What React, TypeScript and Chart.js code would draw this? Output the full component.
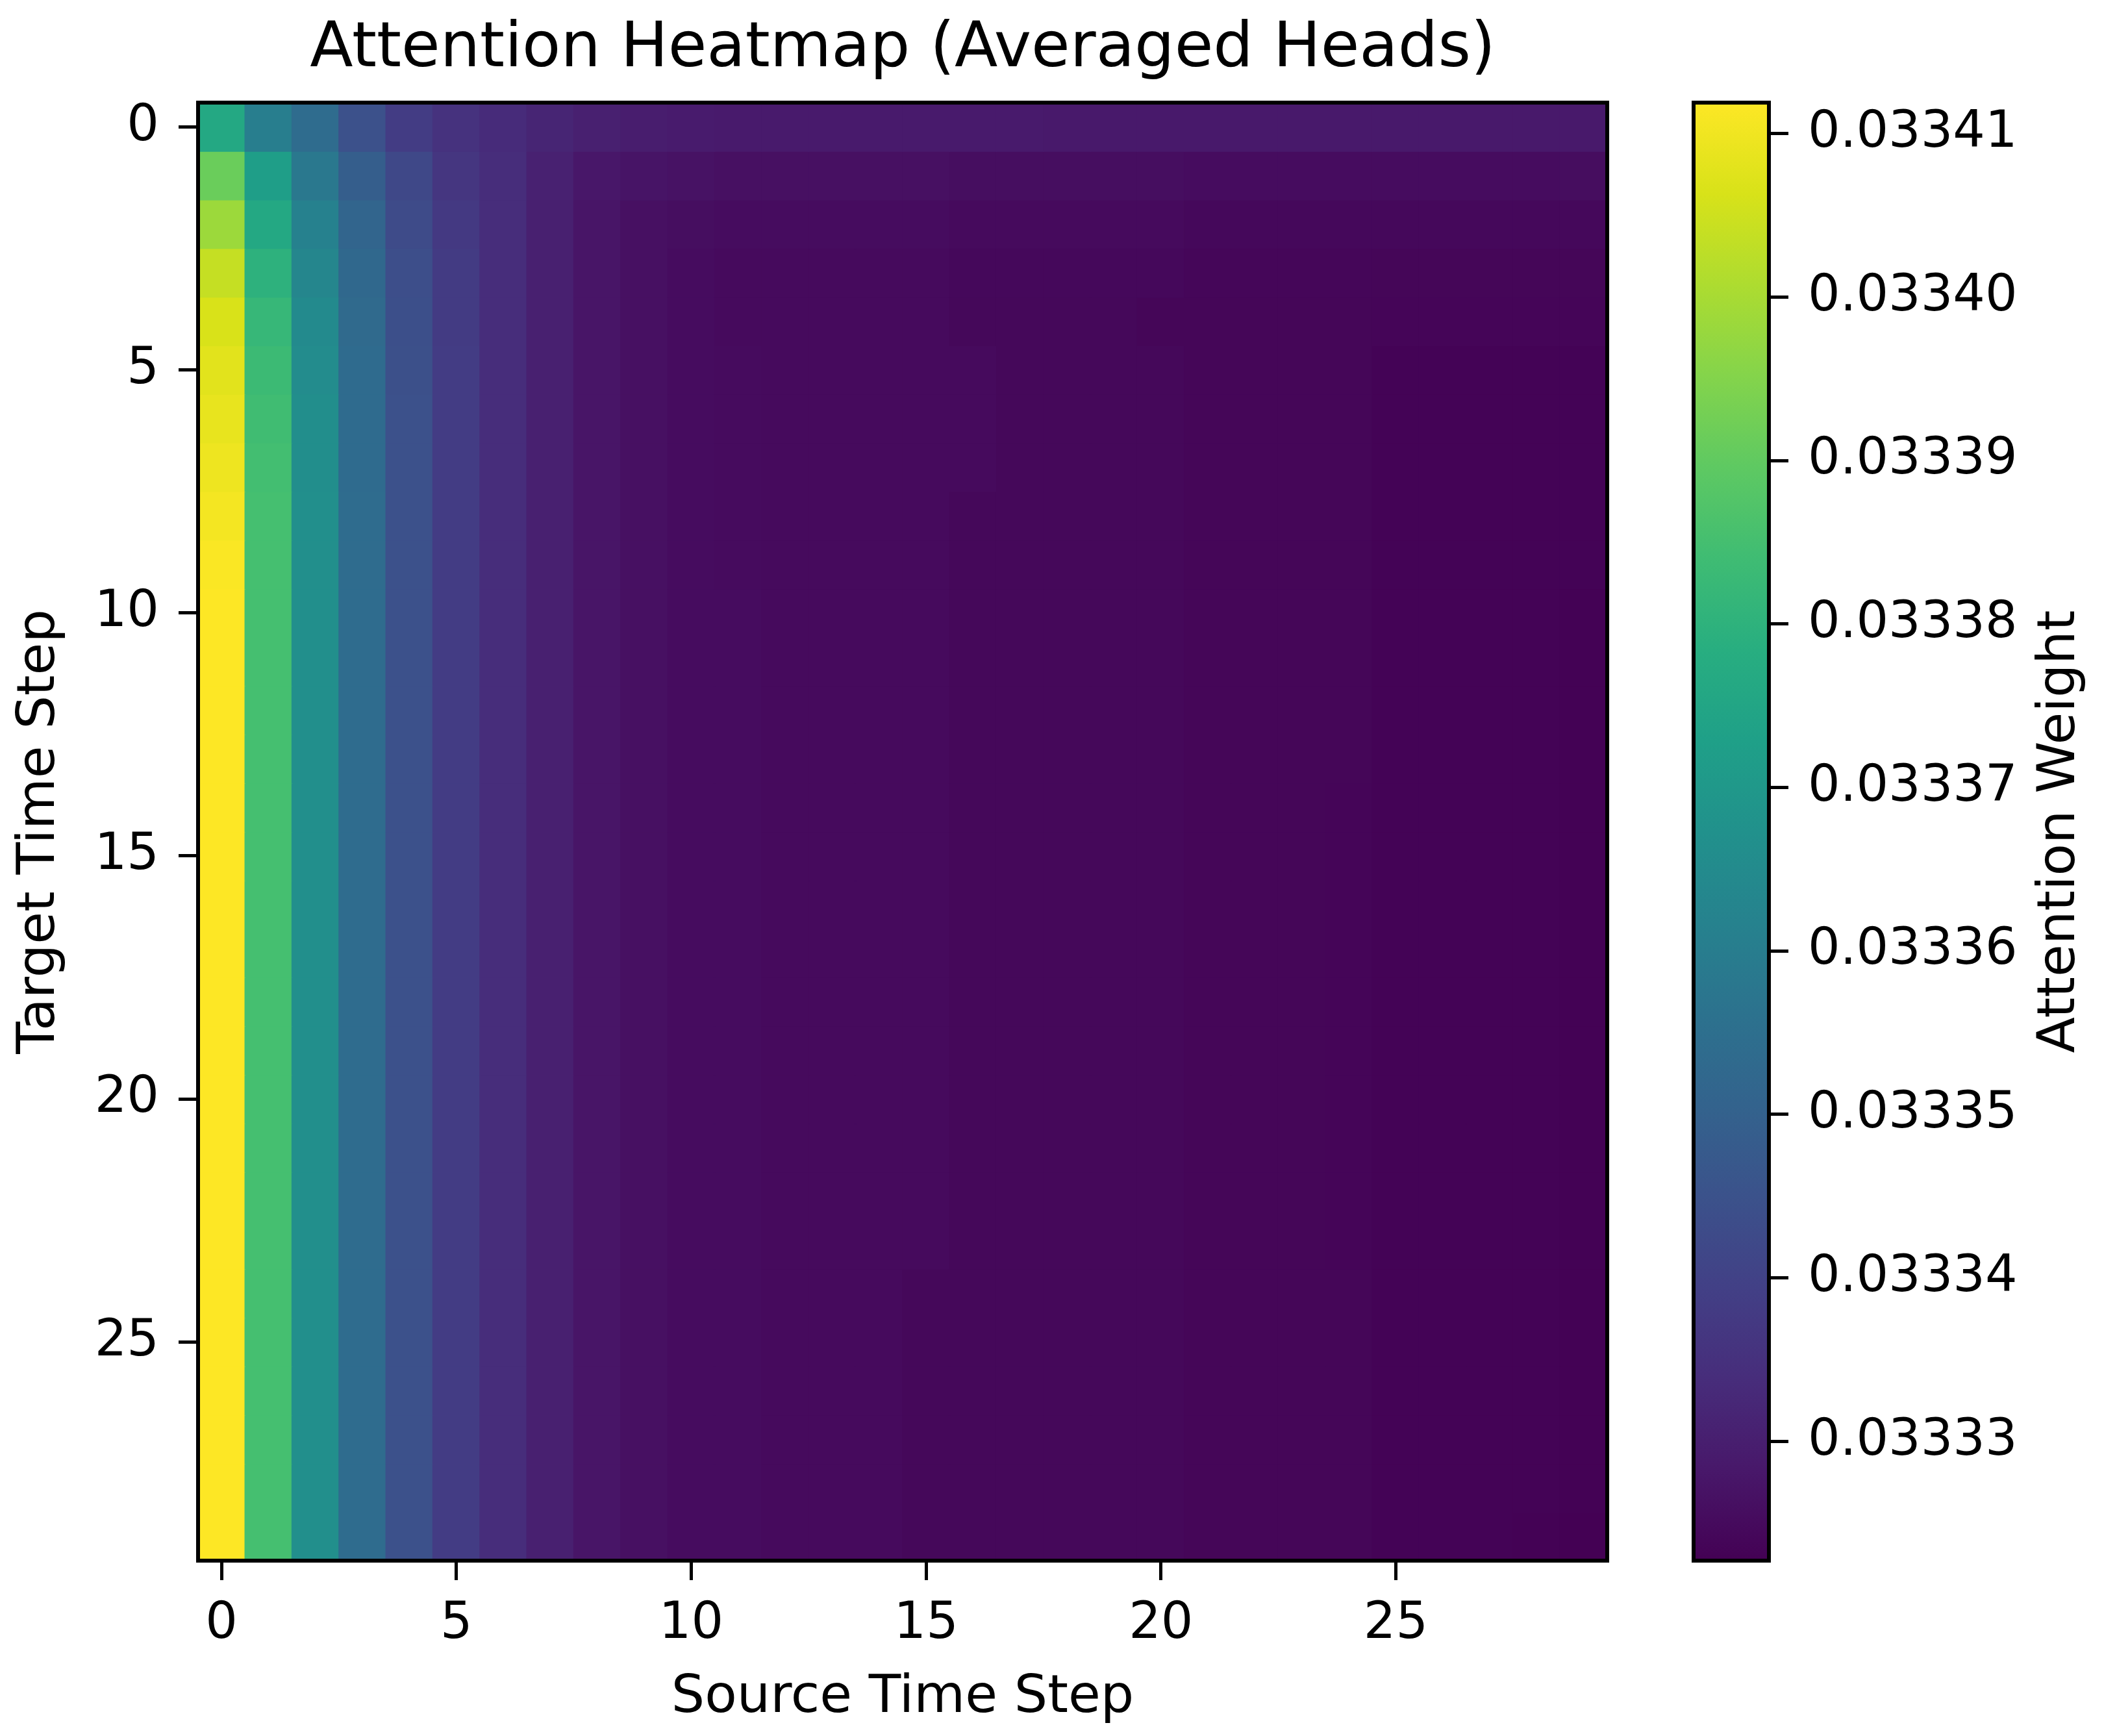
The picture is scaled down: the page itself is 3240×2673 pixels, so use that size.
import React, { useEffect, useRef } from 'react';
import { Chart, registerables } from 'chart.js';

Chart.register(...registerables);

// ---------------- data ----------------
const TITLE = 'Attention Heatmap (Averaged Heads)';
const X_TITLE = 'Source Time Step';
const Y_TITLE = 'Target Time Step';
const CB_TITLE = 'Attention Weight';

const SOURCE_STEPS = ['0','1','2','3','4','5','6','7','8','9','10','11','12','13','14','15','16','17','18','19','20','21','22','23','24','25','26','27','28','29'];
const TARGET_STEPS = [0,1,2,3,4,5,6,7,8,9,10,11,12,13,14,15,16,17,18,19,20,21,22,23,24,25,26,27,28,29];
const X_TICKS = [0, 5, 10, 15, 20, 25];
const Y_TICKS = [0, 5, 10, 15, 20, 25];
const CB_TICKS = [0.03333, 0.03334, 0.03335, 0.03336, 0.03337, 0.03338, 0.03339, 0.0334, 0.03341];
const VMIN = 0.0333227;
const VMAX = 0.0334119;

const ROW_0 = [0.0333762, 0.0333602, 0.0333539, 0.0333446, 0.0333383, 0.0333352, 0.0333334, 0.0333316, 0.0333303, 0.0333297,
  0.0333291, 0.0333289, 0.0333289, 0.0333289, 0.0333289, 0.0333289, 0.0333289, 0.0333289, 0.0333285, 0.0333285,
  0.0333285, 0.0333285, 0.0333285, 0.0333285, 0.0333285, 0.0333285, 0.0333285, 0.0333285, 0.0333285, 0.0333285];
const ROW_1 = [0.0333914, 0.0333722, 0.0333584, 0.0333490, 0.0333419, 0.0333365, 0.0333339, 0.0333307, 0.0333281, 0.0333272,
  0.0333267, 0.0333263, 0.0333263, 0.0333263, 0.0333263, 0.0333263, 0.0333258, 0.0333258, 0.0333258, 0.0333258,
  0.0333258, 0.0333254, 0.0333254, 0.0333254, 0.0333254, 0.0333254, 0.0333254, 0.0333254, 0.0333254, 0.0333256];
const ROW_2 = [0.0333985, 0.0333762, 0.0333615, 0.0333512, 0.0333428, 0.0333374, 0.0333339, 0.0333303, 0.0333276, 0.0333263,
  0.0333258, 0.0333254, 0.0333254, 0.0333254, 0.0333254, 0.0333254, 0.0333249, 0.0333249, 0.0333249, 0.0333249,
  0.0333249, 0.0333245, 0.0333245, 0.0333245, 0.0333245, 0.0333245, 0.0333245, 0.0333245, 0.0333245, 0.0333245];
const ROW_3 = [0.0334039, 0.0333798, 0.0333633, 0.0333526, 0.0333437, 0.0333379, 0.0333339, 0.0333303, 0.0333276, 0.0333263,
  0.0333254, 0.0333249, 0.0333249, 0.0333249, 0.0333249, 0.0333249, 0.0333245, 0.0333245, 0.0333245, 0.0333245,
  0.0333245, 0.0333240, 0.0333240, 0.0333240, 0.0333240, 0.0333238, 0.0333238, 0.0333238, 0.0333238, 0.0333238];
const ROW_4 = [0.0334065, 0.0333820, 0.0333646, 0.0333530, 0.0333441, 0.0333380, 0.0333339, 0.0333303, 0.0333276, 0.0333263,
  0.0333254, 0.0333249, 0.0333249, 0.0333249, 0.0333249, 0.0333249, 0.0333243, 0.0333243, 0.0333243, 0.0333243,
  0.0333238, 0.0333238, 0.0333238, 0.0333238, 0.0333238, 0.0333236, 0.0333236, 0.0333236, 0.0333236, 0.0333236];
const ROW_5 = [0.0334079, 0.0333834, 0.0333655, 0.0333535, 0.0333443, 0.0333383, 0.0333339, 0.0333303, 0.0333276, 0.0333263,
  0.0333254, 0.0333252, 0.0333249, 0.0333249, 0.0333249, 0.0333249, 0.0333249, 0.0333243, 0.0333243, 0.0333243,
  0.0333243, 0.0333238, 0.0333238, 0.0333238, 0.0333238, 0.0333232, 0.0333232, 0.0333232, 0.0333232, 0.0333232];
const ROW_6 = [0.0334088, 0.0333842, 0.0333660, 0.0333535, 0.0333446, 0.0333383, 0.0333339, 0.0333303, 0.0333276, 0.0333263,
  0.0333254, 0.0333252, 0.0333249, 0.0333249, 0.0333249, 0.0333249, 0.0333249, 0.0333243, 0.0333243, 0.0333243,
  0.0333243, 0.0333238, 0.0333238, 0.0333238, 0.0333238, 0.0333232, 0.0333232, 0.0333232, 0.0333232, 0.0333232];
const ROW_7 = [0.0334097, 0.0333847, 0.0333662, 0.0333537, 0.0333446, 0.0333383, 0.0333339, 0.0333303, 0.0333276, 0.0333263,
  0.0333254, 0.0333252, 0.0333249, 0.0333249, 0.0333249, 0.0333249, 0.0333249, 0.0333243, 0.0333243, 0.0333243,
  0.0333243, 0.0333238, 0.0333238, 0.0333238, 0.0333238, 0.0333232, 0.0333232, 0.0333232, 0.0333232, 0.0333232];
const ROW_8 = [0.0334106, 0.0333851, 0.0333664, 0.0333539, 0.0333446, 0.0333383, 0.0333339, 0.0333303, 0.0333276, 0.0333263,
  0.0333254, 0.0333252, 0.0333249, 0.0333249, 0.0333249, 0.0333249, 0.0333243, 0.0333243, 0.0333243, 0.0333243,
  0.0333243, 0.0333238, 0.0333238, 0.0333238, 0.0333238, 0.0333232, 0.0333232, 0.0333232, 0.0333232, 0.0333232];
const ROW_9 = [0.0334115, 0.0333851, 0.0333664, 0.0333539, 0.0333446, 0.0333383, 0.0333339, 0.0333303, 0.0333276, 0.0333263,
  0.0333254, 0.0333252, 0.0333249, 0.0333249, 0.0333249, 0.0333249, 0.0333243, 0.0333243, 0.0333243, 0.0333243,
  0.0333243, 0.0333238, 0.0333238, 0.0333238, 0.0333238, 0.0333232, 0.0333232, 0.0333232, 0.0333232, 0.0333232];
const ROW_10 = [0.0334119, 0.0333851, 0.0333664, 0.0333539, 0.0333446, 0.0333383, 0.0333339, 0.0333303, 0.0333276, 0.0333263,
  0.0333254, 0.0333254, 0.0333249, 0.0333249, 0.0333249, 0.0333249, 0.0333243, 0.0333243, 0.0333243, 0.0333243,
  0.0333243, 0.0333238, 0.0333238, 0.0333238, 0.0333238, 0.0333231, 0.0333231, 0.0333231, 0.0333231, 0.0333230];
const ROW_11 = [0.0334119, 0.0333851, 0.0333664, 0.0333539, 0.0333446, 0.0333383, 0.0333339, 0.0333303, 0.0333276, 0.0333263,
  0.0333254, 0.0333254, 0.0333249, 0.0333249, 0.0333249, 0.0333249, 0.0333243, 0.0333243, 0.0333243, 0.0333243,
  0.0333243, 0.0333238, 0.0333238, 0.0333238, 0.0333238, 0.0333231, 0.0333231, 0.0333231, 0.0333231, 0.0333230];
const ROW_12 = [0.0334119, 0.0333851, 0.0333664, 0.0333539, 0.0333446, 0.0333383, 0.0333339, 0.0333303, 0.0333276, 0.0333263,
  0.0333254, 0.0333254, 0.0333249, 0.0333249, 0.0333249, 0.0333249, 0.0333243, 0.0333243, 0.0333243, 0.0333243,
  0.0333243, 0.0333238, 0.0333238, 0.0333238, 0.0333238, 0.0333231, 0.0333231, 0.0333231, 0.0333231, 0.0333230];
const ROW_13 = [0.0334119, 0.0333851, 0.0333664, 0.0333539, 0.0333446, 0.0333383, 0.0333339, 0.0333303, 0.0333276, 0.0333263,
  0.0333254, 0.0333254, 0.0333249, 0.0333249, 0.0333249, 0.0333249, 0.0333243, 0.0333243, 0.0333243, 0.0333243,
  0.0333243, 0.0333238, 0.0333238, 0.0333238, 0.0333238, 0.0333231, 0.0333231, 0.0333231, 0.0333231, 0.0333230];
const ROW_14 = [0.0334119, 0.0333851, 0.0333664, 0.0333539, 0.0333446, 0.0333383, 0.0333339, 0.0333303, 0.0333276, 0.0333263,
  0.0333254, 0.0333254, 0.0333249, 0.0333249, 0.0333249, 0.0333249, 0.0333243, 0.0333243, 0.0333243, 0.0333243,
  0.0333243, 0.0333238, 0.0333238, 0.0333238, 0.0333236, 0.0333231, 0.0333231, 0.0333231, 0.0333231, 0.0333230];
const ROW_15 = [0.0334119, 0.0333851, 0.0333664, 0.0333539, 0.0333446, 0.0333383, 0.0333339, 0.0333303, 0.0333276, 0.0333263,
  0.0333254, 0.0333254, 0.0333249, 0.0333249, 0.0333249, 0.0333249, 0.0333243, 0.0333243, 0.0333243, 0.0333243,
  0.0333243, 0.0333238, 0.0333238, 0.0333238, 0.0333236, 0.0333231, 0.0333231, 0.0333231, 0.0333231, 0.0333230];
const ROW_16 = [0.0334119, 0.0333851, 0.0333664, 0.0333539, 0.0333446, 0.0333383, 0.0333339, 0.0333303, 0.0333276, 0.0333263,
  0.0333254, 0.0333254, 0.0333249, 0.0333249, 0.0333249, 0.0333249, 0.0333243, 0.0333243, 0.0333243, 0.0333243,
  0.0333243, 0.0333238, 0.0333238, 0.0333238, 0.0333236, 0.0333231, 0.0333231, 0.0333231, 0.0333231, 0.0333230];
const ROW_17 = [0.0334119, 0.0333851, 0.0333664, 0.0333539, 0.0333446, 0.0333383, 0.0333339, 0.0333303, 0.0333276, 0.0333263,
  0.0333254, 0.0333254, 0.0333249, 0.0333249, 0.0333249, 0.0333249, 0.0333243, 0.0333243, 0.0333243, 0.0333243,
  0.0333243, 0.0333238, 0.0333238, 0.0333238, 0.0333236, 0.0333231, 0.0333231, 0.0333231, 0.0333231, 0.0333230];
const ROW_18 = [0.0334119, 0.0333851, 0.0333664, 0.0333539, 0.0333446, 0.0333383, 0.0333339, 0.0333303, 0.0333276, 0.0333263,
  0.0333254, 0.0333254, 0.0333249, 0.0333249, 0.0333249, 0.0333249, 0.0333243, 0.0333243, 0.0333243, 0.0333243,
  0.0333243, 0.0333238, 0.0333238, 0.0333238, 0.0333236, 0.0333231, 0.0333231, 0.0333231, 0.0333231, 0.0333230];
const ROW_19 = [0.0334119, 0.0333851, 0.0333664, 0.0333539, 0.0333446, 0.0333383, 0.0333339, 0.0333303, 0.0333276, 0.0333263,
  0.0333254, 0.0333254, 0.0333249, 0.0333249, 0.0333249, 0.0333249, 0.0333243, 0.0333243, 0.0333243, 0.0333243,
  0.0333243, 0.0333238, 0.0333238, 0.0333238, 0.0333236, 0.0333231, 0.0333231, 0.0333231, 0.0333231, 0.0333230];
const ROW_20 = [0.0334119, 0.0333851, 0.0333664, 0.0333539, 0.0333446, 0.0333383, 0.0333339, 0.0333303, 0.0333276, 0.0333263,
  0.0333254, 0.0333254, 0.0333249, 0.0333249, 0.0333249, 0.0333249, 0.0333243, 0.0333243, 0.0333243, 0.0333243,
  0.0333243, 0.0333238, 0.0333238, 0.0333238, 0.0333236, 0.0333231, 0.0333231, 0.0333231, 0.0333231, 0.0333230];
const ROW_21 = [0.0334119, 0.0333851, 0.0333664, 0.0333539, 0.0333446, 0.0333383, 0.0333339, 0.0333303, 0.0333276, 0.0333263,
  0.0333254, 0.0333254, 0.0333249, 0.0333249, 0.0333249, 0.0333249, 0.0333243, 0.0333243, 0.0333243, 0.0333243,
  0.0333243, 0.0333238, 0.0333238, 0.0333238, 0.0333236, 0.0333231, 0.0333231, 0.0333231, 0.0333231, 0.0333230];
const ROW_22 = [0.0334119, 0.0333851, 0.0333664, 0.0333539, 0.0333446, 0.0333383, 0.0333339, 0.0333303, 0.0333276, 0.0333263,
  0.0333254, 0.0333254, 0.0333249, 0.0333249, 0.0333249, 0.0333249, 0.0333243, 0.0333243, 0.0333243, 0.0333243,
  0.0333243, 0.0333238, 0.0333238, 0.0333238, 0.0333236, 0.0333231, 0.0333231, 0.0333231, 0.0333231, 0.0333230];
const ROW_23 = [0.0334119, 0.0333851, 0.0333664, 0.0333539, 0.0333446, 0.0333383, 0.0333339, 0.0333303, 0.0333276, 0.0333263,
  0.0333254, 0.0333254, 0.0333249, 0.0333249, 0.0333249, 0.0333249, 0.0333243, 0.0333243, 0.0333243, 0.0333243,
  0.0333243, 0.0333238, 0.0333238, 0.0333238, 0.0333236, 0.0333231, 0.0333231, 0.0333231, 0.0333231, 0.0333230];
const ROW_24 = [0.0334119, 0.0333851, 0.0333664, 0.0333539, 0.0333446, 0.0333383, 0.0333339, 0.0333303, 0.0333276, 0.0333263,
  0.0333254, 0.0333254, 0.0333249, 0.0333249, 0.0333249, 0.0333243, 0.0333243, 0.0333243, 0.0333243, 0.0333243,
  0.0333243, 0.0333238, 0.0333238, 0.0333238, 0.0333238, 0.0333231, 0.0333231, 0.0333231, 0.0333231, 0.0333230];
const ROW_25 = [0.0334119, 0.0333851, 0.0333664, 0.0333539, 0.0333446, 0.0333383, 0.0333339, 0.0333303, 0.0333276, 0.0333263,
  0.0333254, 0.0333254, 0.0333249, 0.0333249, 0.0333249, 0.0333243, 0.0333243, 0.0333243, 0.0333243, 0.0333243,
  0.0333243, 0.0333238, 0.0333238, 0.0333238, 0.0333238, 0.0333231, 0.0333231, 0.0333231, 0.0333231, 0.0333230];
const ROW_26 = [0.0334119, 0.0333851, 0.0333664, 0.0333539, 0.0333446, 0.0333383, 0.0333339, 0.0333303, 0.0333276, 0.0333263,
  0.0333254, 0.0333254, 0.0333249, 0.0333249, 0.0333249, 0.0333243, 0.0333243, 0.0333243, 0.0333243, 0.0333243,
  0.0333243, 0.0333238, 0.0333238, 0.0333238, 0.0333238, 0.0333231, 0.0333231, 0.0333231, 0.0333231, 0.0333230];
const ROW_27 = [0.0334119, 0.0333851, 0.0333664, 0.0333539, 0.0333446, 0.0333383, 0.0333339, 0.0333303, 0.0333276, 0.0333263,
  0.0333254, 0.0333254, 0.0333249, 0.0333249, 0.0333249, 0.0333243, 0.0333243, 0.0333243, 0.0333243, 0.0333243,
  0.0333243, 0.0333238, 0.0333238, 0.0333238, 0.0333238, 0.0333231, 0.0333231, 0.0333231, 0.0333231, 0.0333230];
const ROW_28 = [0.0334119, 0.0333851, 0.0333664, 0.0333539, 0.0333446, 0.0333383, 0.0333339, 0.0333303, 0.0333276, 0.0333263,
  0.0333254, 0.0333254, 0.0333249, 0.0333249, 0.0333249, 0.0333243, 0.0333243, 0.0333243, 0.0333243, 0.0333243,
  0.0333243, 0.0333238, 0.0333238, 0.0333238, 0.0333238, 0.0333231, 0.0333231, 0.0333231, 0.0333231, 0.0333230];
const ROW_29 = [0.0334119, 0.0333851, 0.0333664, 0.0333539, 0.0333446, 0.0333383, 0.0333339, 0.0333303, 0.0333276, 0.0333263,
  0.0333254, 0.0333254, 0.0333249, 0.0333249, 0.0333249, 0.0333243, 0.0333243, 0.0333243, 0.0333243, 0.0333243,
  0.0333243, 0.0333238, 0.0333238, 0.0333238, 0.0333238, 0.0333231, 0.0333231, 0.0333231, 0.0333230, 0.0333227];

const ATTENTION = [ROW_0, ROW_1, ROW_2, ROW_3, ROW_4, ROW_5, ROW_6, ROW_7, ROW_8, ROW_9,
  ROW_10, ROW_11, ROW_12, ROW_13, ROW_14, ROW_15, ROW_16, ROW_17, ROW_18, ROW_19,
  ROW_20, ROW_21, ROW_22, ROW_23, ROW_24, ROW_25, ROW_26, ROW_27, ROW_28, ROW_29];

// ---------------- styling ----------------
const FONT = "'DejaVu Sans', sans-serif";
const TICK_SIZE = 78;
const LABEL_SIZE = 81;
const TITLE_SIZE = 97;
const VIRIDIS = ['#440154', '#48186a', '#472d7b', '#424086', '#3b528b', '#33638d', '#2c728e', '#26828e',
  '#21918c', '#1fa088', '#28ae80', '#3fbc73', '#5ec962', '#84d44b', '#addc30', '#d8e219', '#fde725'];

function hexToRgb(h: string): number[] {
  return [parseInt(h.slice(1, 3), 16), parseInt(h.slice(3, 5), 16), parseInt(h.slice(5, 7), 16)];
}
const VIRIDIS_RGB = VIRIDIS.map(hexToRgb);

function viridis(t: number): string {
  const c = Math.max(0, Math.min(1, t));
  const n = VIRIDIS_RGB.length;
  const pos = c * (n - 1);
  const i = Math.min(Math.floor(pos), n - 2);
  const f = pos - i;
  const a = VIRIDIS_RGB[i];
  const b = VIRIDIS_RGB[i + 1];
  const r = Math.round(a[0] + (b[0] - a[0]) * f);
  const g = Math.round(a[1] + (b[1] - a[1]) * f);
  const bl = Math.round(a[2] + (b[2] - a[2]) * f);
  return `rgb(${r},${g},${bl})`;
}

const W = 3240;
const H = 2673;
const PLOT_LEFT = 305;
const PLOT_RIGHT = 2475;
const PLOT_TOP = 158;
const PLOT_BOTTOM = 2403;
const CB_CANVAS_LEFT = 2500;
const CB_LEFT = 2608;
const CB_RIGHT = 2724;

const framePlugin = {
  id: 'frame',
  afterDatasetsDraw(chart: any) {
    const { ctx, chartArea } = chart;
    const { left, top, right, bottom } = chartArea;
    ctx.save();
    ctx.strokeStyle = '#000';
    ctx.lineWidth = 6;
    ctx.strokeRect(left, top, right - left, bottom - top);
    ctx.restore();
  },
};

const cbLabelPlugin = {
  id: 'cbLabel',
  afterDraw(chart: any) {
    const { ctx, chartArea } = chart;
    ctx.save();
    ctx.translate(3173 - CB_CANVAS_LEFT, (chartArea.top + chartArea.bottom) / 2);
    ctx.rotate(-Math.PI / 2);
    ctx.font = `normal ${LABEL_SIZE}px ${FONT}`;
    ctx.fillStyle = '#000';
    ctx.textAlign = 'center';
    ctx.textBaseline = 'middle';
    ctx.fillText(CB_TITLE, 0, 0);
    ctx.restore();
  },
};

const tickGrid = {
  display: true,
  drawOnChartArea: false,
  drawTicks: true,
  tickLength: 30,
  tickWidth: 5,
  tickColor: '#000',
  offset: false,
};

export default function App() {
  const mainRef = useRef<HTMLCanvasElement>(null);
  const cbRef = useRef<HTMLCanvasElement>(null);

  useEffect(() => {
    Chart.defaults.font.family = FONT;
    Chart.defaults.color = '#000';

    const datasets = TARGET_STEPS.map((r, i) => ({
      label: `row ${r}`,
      data: SOURCE_STEPS.map(() => [r - 0.5, r + 0.5]),
      backgroundColor: ATTENTION[i].map((w) => viridis((w - VMIN) / (VMAX - VMIN))),
      borderWidth: 0,
      grouped: false,
      barPercentage: 1,
      categoryPercentage: 1,
      inflateAmount: 0.8,
    }));

    const titleLine = TITLE_SIZE * 1.2;
    const titleTopPad = 77 - titleLine / 2;
    const labelHalf = (LABEL_SIZE * 1.2) / 2;

    const main = new Chart(mainRef.current as HTMLCanvasElement, {
      type: 'bar',
      data: { labels: SOURCE_STEPS, datasets: datasets as any },
      options: {
        animation: false,
        responsive: false,
        devicePixelRatio: 1,
        layout: { padding: { left: 0, top: 0, right: W - PLOT_RIGHT, bottom: 0 } },
        plugins: {
          legend: { display: false },
          tooltip: { enabled: false },
          title: {
            display: true,
            text: TITLE,
            fullSize: false,
            color: '#000',
            font: { family: FONT, size: TITLE_SIZE, weight: 'normal' },
            padding: { top: titleTopPad, bottom: PLOT_TOP - titleTopPad - titleLine },
          },
        },
        scales: {
          x: {
            type: 'category',
            offset: true,
            afterBuildTicks: (s: any) => { s.ticks = X_TICKS.map((v) => ({ value: v })); },
            afterFit: (s: any) => { s.height = H - PLOT_BOTTOM; },
            grid: tickGrid as any,
            border: { display: false },
            ticks: { color: '#000', font: { family: FONT, size: TICK_SIZE }, padding: 22, maxRotation: 0, autoSkip: false },
            title: { display: true, text: X_TITLE, color: '#000', font: { family: FONT, size: LABEL_SIZE }, padding: { top: 0, bottom: (H - 2615) - labelHalf } },
          },
          y: {
            type: 'linear',
            reverse: true,
            min: -0.5,
            max: 29.5,
            afterBuildTicks: (s: any) => { s.ticks = Y_TICKS.map((v) => ({ value: v })); },
            afterFit: (s: any) => { s.width = PLOT_LEFT; },
            grid: tickGrid as any,
            border: { display: false },
            ticks: { color: '#000', font: { family: FONT, size: TICK_SIZE }, padding: 30, callback: (v: any) => String(v) },
            title: { display: true, text: Y_TITLE, color: '#000', font: { family: FONT, size: LABEL_SIZE }, padding: { top: 62 - labelHalf, bottom: 0 } },
          },
        },
      } as any,
      plugins: [framePlugin],
    });

    const cb = new Chart(cbRef.current as HTMLCanvasElement, {
      type: 'bar',
      data: {
        labels: [''],
        datasets: [{
          data: [[VMIN, VMAX]],
          backgroundColor: (c: any) => {
            const ch = c.chart;
            const area = ch.chartArea;
            if (!area) return VIRIDIS[8];
            const g = ch.ctx.createLinearGradient(0, area.bottom, 0, area.top);
            VIRIDIS.forEach((col, i) => g.addColorStop(i / (VIRIDIS.length - 1), col));
            return g;
          },
          borderWidth: 0,
          barPercentage: 1,
          categoryPercentage: 1,
          inflateAmount: 0,
        }] as any,
      },
      options: {
        animation: false,
        responsive: false,
        devicePixelRatio: 1,
        layout: { padding: { left: CB_LEFT - CB_CANVAS_LEFT, top: PLOT_TOP, right: 0, bottom: H - PLOT_BOTTOM } },
        plugins: { legend: { display: false }, tooltip: { enabled: false } },
        scales: {
          x: { display: false },
          y: {
            type: 'linear',
            position: 'right',
            min: VMIN,
            max: VMAX,
            afterBuildTicks: (s: any) => { s.ticks = CB_TICKS.map((v) => ({ value: v })); },
            afterFit: (s: any) => { s.width = (CB_CANVAS_LEFT + 740) - CB_RIGHT; },
            grid: tickGrid as any,
            border: { display: false },
            ticks: { color: '#000', font: { family: FONT, size: TICK_SIZE }, padding: 30, callback: (v: any) => Number(v).toFixed(5) },
          },
        },
      } as any,
      plugins: [framePlugin, cbLabelPlugin],
    });

    return () => {
      main.destroy();
      cb.destroy();
    };
  }, []);

  return (
    <div style={{ position: 'absolute', left: 0, top: 0, width: W, height: H, background: '#fff' }}>
      <canvas ref={mainRef} width={W} height={H} style={{ position: 'absolute', left: 0, top: 0, width: W, height: H }} />
      <canvas ref={cbRef} width={740} height={H} style={{ position: 'absolute', left: CB_CANVAS_LEFT, top: 0, width: 740, height: H }} />
    </div>
  );
}
